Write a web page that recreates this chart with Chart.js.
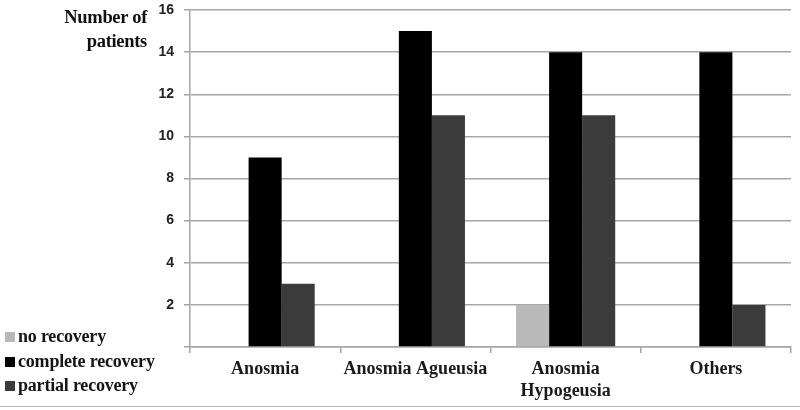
<!DOCTYPE html>
<html>
<head>
<meta charset="utf-8">
<script src="https://cdn.jsdelivr.net/npm/chart.js@4.4.0/dist/chart.umd.min.js"></script>
<style>
  body { margin: 0; background: #fff; }
  #wrap { position: relative; width: 800px; height: 407px; border-bottom: 1px solid #bbb; box-sizing: border-box; }
  #yTitle { position: absolute; left: 0; top: 5px; width: 147px; text-align: right; font: bold 18.5px "Liberation Serif", serif; line-height: 24px; color: #111; letter-spacing: -0.3px; }
  #legend { position: absolute; left: 5px; top: 324px; font: bold 18px "Liberation Serif", serif; color: #151515; line-height: 24.5px; letter-spacing: -0.2px; }
  #legend .sw { display: inline-block; width: 10px; height: 10px; margin-right: 3px; vertical-align: 0px; }
</style>
</head>
<body>
<div id="wrap">
  <canvas id="chart" width="800" height="406"></canvas>
  <div id="yTitle">Number of<br>patients</div>
  <div id="legend"></div>
</div>
<script>
// Data
const categories = ['Anosmia', 'Anosmia Agueusia', ['Anosmia', 'Hypogeusia'], 'Others'];
const seriesNames = ['no recovery', 'complete recovery', 'partial recovery'];
const noRecovery = [0, 0, 2, 0];
const completeRecovery = [9, 15, 14, 14];
const partialRecovery = [3, 11, 11, 2];
const yTicks = [0, 2, 4, 6, 8, 10, 12, 14, 16];

const colors = ['#b9b9b9', '#000000', '#3b3b3b'];
const seriesValues = [noRecovery, completeRecovery, partialRecovery];

const ctx = document.getElementById('chart').getContext('2d');
const chart = new Chart(ctx, {
  type: 'bar',
  data: {
    labels: categories,
    datasets: seriesNames.map((name, i) => ({
      label: name,
      data: seriesValues[i],
      backgroundColor: colors[i],
      borderWidth: 0,
      barPercentage: 1,
      categoryPercentage: 0.66
    }))
  },
  options: {
    responsive: false,
    animation: false,
    layout: { padding: { top: 10, right: 9, left: 0, bottom: 0 } },
    plugins: {
      legend: { display: false },
      tooltip: { enabled: false }
    },
    scales: {
      x: {
        grid: { display: true, drawOnChartArea: false, drawTicks: true, tickLength: 6, color: '#a6a6a6', lineWidth: 1.5, offset: true },
        border: { color: '#a6a6a6', width: 1.5 },
        ticks: {
          color: '#1a1a1a',
          font: { family: '"Liberation Serif", serif', size: 18, weight: 'bold', lineHeight: 1.2 },
          padding: 6,
          maxRotation: 0
        },
        afterFit: s => { s.height = 59; }
      },
      y: {
        min: 0,
        max: 16,
        afterBuildTicks: s => { s.ticks = yTicks.map(v => ({ value: v })); },
        grid: { color: '#a6a6a6', lineWidth: 1.5, tickLength: 6 },
        border: { color: '#a6a6a6', width: 1.5 },
        ticks: {
          color: '#222',
          font: { family: '"Liberation Sans", sans-serif', size: 14, weight: 'bold' },
          padding: 10,
          callback: v => v === 0 ? '' : v
        },
        afterFit: s => { s.width = 190; s.paddingTop = 0; s.paddingBottom = 0; }
      }
    }
  }
});

// Legend (HTML, stacked at bottom-left)
const legend = document.getElementById('legend');
seriesNames.forEach((name, i) => {
  const row = document.createElement('div');
  row.innerHTML = '<span class="sw" style="background:' + colors[i] + '"></span>' + name;
  legend.appendChild(row);
});
</script>
</body>
</html>
